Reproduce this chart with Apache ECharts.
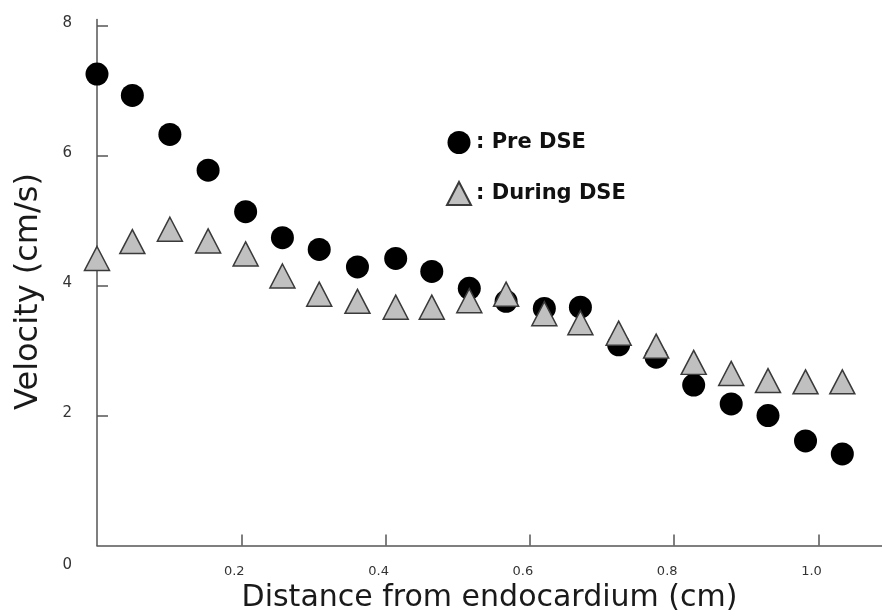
<!DOCTYPE html>
<html>
<head>
<meta charset="utf-8">
<script src="https://cdn.jsdelivr.net/npm/echarts@6/dist/echarts.min.js"></script>
<style>
html,body{margin:0;padding:0;background:#fff;}
#chart{width:882px;height:615px;}
</style>
</head>
<body>
<div id="chart"></div>
<script>
const distance = [0, 0.049, 0.101, 0.154, 0.206, 0.257, 0.308, 0.361, 0.414, 0.464, 0.516, 0.567, 0.620, 0.670, 0.723, 0.775, 0.827, 0.879, 0.930, 0.982, 1.033];
const preDSE = [7.26, 6.93, 6.33, 5.78, 5.14, 4.74, 4.56, 4.29, 4.42, 4.22, 3.96, 3.76, 3.65, 3.67, 3.09, 2.90, 2.47, 2.18, 2.00, 1.61, 1.41];
const duringDSE = [4.42, 4.68, 4.87, 4.69, 4.49, 4.15, 3.87, 3.76, 3.67, 3.67, 3.77, 3.87, 3.57, 3.43, 3.27, 3.07, 2.82, 2.65, 2.54, 2.52, 2.52];
const xTicks = [0.2, 0.4, 0.6, 0.8, 1.0];
const yTicks = [2, 4, 6, 8];
const yLabels = [0, 2, 4, 6, 8];
const seriesNames = ['Pre DSE', 'During DSE'];

const chart = echarts.init(document.getElementById('chart'));
const axisColor = '#555';
const font = 'DejaVu Sans';
chart.setOption({
  animation: false,
  backgroundColor: '#fff',
  grid: {left: 97, right: 0, top: 19.5, bottom: 69.5, containLabel: false, outerBoundsMode: 'none'},
  legend: {
    orient: 'vertical',
    left: 441, top: 126,
    itemWidth: 24, itemHeight: 23,
    itemGap: 27,
    data: [{name: seriesNames[0], icon: 'circle'}, {name: seriesNames[1], icon: 'triangle'}],
    formatter: n => ': ' + n,
    textStyle: {fontFamily: font, fontWeight: 'bold', fontSize: 21, color: '#111'}
  },
  xAxis: {
    type: 'value', min: 0, max: 1.088,
    name: 'Distance from endocardium (cm)',
    nameLocation: 'middle', nameGap: 36,
    nameTextStyle: {fontFamily: font, fontSize: 30, color: '#1a1a1a'},
    splitLine: {show: false},
    axisLine: {lineStyle: {color: axisColor, width: 1.5}},
    axisTick: {inside: true, length: 11, lineStyle: {color: axisColor, width: 1.5}, customValues: xTicks},
    axisLabel: {
      customValues: xTicks, margin: 20,
      formatter: v => '{a|' + v.toFixed(1) + '}',
      rich: {a: {fontFamily: font, fontSize: 13, color: '#333', padding: [0, 14, 0, 0]}}
    }
  },
  yAxis: {
    type: 'value', min: 0, max: 8.1,
    name: 'Velocity (cm/s)',
    nameLocation: 'middle', nameGap: 52,
    nameTextStyle: {fontFamily: font, fontSize: 32, color: '#1a1a1a', padding: [0, 18, 0, 0]},
    splitLine: {show: false},
    axisLine: {show: true, lineStyle: {color: axisColor, width: 1.5}},
    axisTick: {show: true, inside: true, length: 11, lineStyle: {color: axisColor, width: 1.5}, customValues: yTicks},
    axisLabel: {
      customValues: yLabels, margin: 25,
      formatter: v => v === 0 ? '{z|0}' : '{a|' + v + '}',
      rich: {
        a: {fontFamily: font, fontSize: 15, color: '#333', padding: [0, 0, 6, 0]},
        z: {fontFamily: font, fontSize: 15, color: '#333', padding: [40, 0, 0, 0]}
      }
    }
  },
  series: [
    {
      name: seriesNames[0], type: 'scatter', clip: false,
      symbol: 'circle', symbolSize: 23,
      itemStyle: {color: '#000', opacity: 1},
      data: distance.map((d, i) => [d, preDSE[i]]),
      z: 2
    },
    {
      name: seriesNames[1], type: 'scatter', clip: false,
      symbol: 'triangle', symbolSize: [25, 24],
      itemStyle: {color: '#c0c0c0', borderColor: '#3a3a3a', borderWidth: 1.5, opacity: 1},
      data: distance.map((d, i) => [d, duringDSE[i]]),
      z: 3
    }
  ]
});
</script>
</body>
</html>
